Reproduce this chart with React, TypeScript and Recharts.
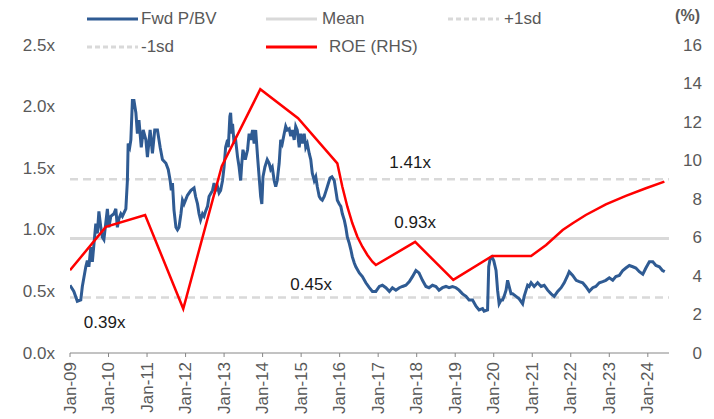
import React from "react"
import { LineChart, Line, XAxis, YAxis, ReferenceLine, ReferenceDot, Legend } from "recharts"

// Fwd P/BV (decimal years)
const pbvDates = [
  2009.0, 2009.1, 2009.19, 2009.28, 2009.32, 2009.41, 2009.45, 2009.49, 2009.54, 2009.58,
  2009.67, 2009.71, 2009.75, 2009.8, 2009.84, 2009.88, 2009.97, 2010.01, 2010.06, 2010.14,
  2010.19, 2010.23, 2010.27, 2010.32, 2010.36, 2010.45, 2010.49, 2010.51, 2010.55, 2010.58,
  2010.62, 2010.66, 2010.71, 2010.75, 2010.79, 2010.85, 2010.9, 2010.97, 2011.01, 2011.08,
  2011.14, 2011.2, 2011.27, 2011.34, 2011.4, 2011.49, 2011.55, 2011.6, 2011.63, 2011.66,
  2011.7, 2011.75, 2011.79, 2011.83, 2011.88, 2011.92, 2011.96, 2012.05, 2012.14, 2012.22,
  2012.26, 2012.31, 2012.35, 2012.39, 2012.44, 2012.48, 2012.52, 2012.57, 2012.61, 2012.7,
  2012.74, 2012.78, 2012.83, 2012.87, 2012.91, 2012.96, 2013.0, 2013.04, 2013.09, 2013.11,
  2013.15, 2013.17, 2013.2, 2013.22, 2013.26, 2013.3, 2013.35, 2013.39, 2013.43, 2013.46,
  2013.49, 2013.55, 2013.61, 2013.65, 2013.69, 2013.74, 2013.78, 2013.82, 2013.87, 2013.91,
  2013.95, 2013.98, 2014.01, 2014.06, 2014.12, 2014.17, 2014.21, 2014.25, 2014.3, 2014.34,
  2014.38, 2014.43, 2014.47, 2014.51, 2014.56, 2014.6, 2014.64, 2014.69, 2014.73, 2014.77,
  2014.82, 2014.86, 2014.9, 2014.95, 2014.99, 2015.03, 2015.08, 2015.12, 2015.16, 2015.21,
  2015.25, 2015.29, 2015.34, 2015.38, 2015.42, 2015.47, 2015.51, 2015.55, 2015.6, 2015.64,
  2015.68, 2015.75, 2015.8, 2015.86, 2015.9, 2015.94, 2015.99, 2016.03, 2016.07, 2016.12,
  2016.16, 2016.2, 2016.25, 2016.29, 2016.33, 2016.38, 2016.42, 2016.51, 2016.59, 2016.68,
  2016.77, 2016.85, 2016.94, 2017.03, 2017.11, 2017.2, 2017.29, 2017.37, 2017.46, 2017.55,
  2017.63, 2017.72, 2017.81, 2017.89, 2017.98, 2018.06, 2018.15, 2018.24, 2018.32, 2018.41,
  2018.5, 2018.58, 2018.67, 2018.76, 2018.84, 2018.93, 2019.02, 2019.1, 2019.19, 2019.28,
  2019.36, 2019.45, 2019.54, 2019.62, 2019.71, 2019.75, 2019.84, 2019.87, 2019.91, 2019.95,
  2020.0, 2020.06, 2020.1, 2020.14, 2020.19, 2020.23, 2020.27, 2020.32, 2020.36, 2020.4,
  2020.45, 2020.49, 2020.58, 2020.66, 2020.75, 2020.79, 2020.84, 2020.88, 2020.92, 2020.97,
  2021.05, 2021.14, 2021.23, 2021.31, 2021.4, 2021.49, 2021.57, 2021.66, 2021.75, 2021.83,
  2021.92, 2021.96, 2022.05, 2022.14, 2022.22, 2022.31, 2022.39, 2022.48, 2022.57, 2022.65,
  2022.74, 2022.83, 2022.91, 2023.0, 2023.09, 2023.17, 2023.26, 2023.35, 2023.43, 2023.52,
  2023.61, 2023.69, 2023.78, 2023.87, 2023.95, 2024.04, 2024.13, 2024.21, 2024.3, 2024.38,
  2024.44,
]
const pbvValues = [
  0.55, 0.5, 0.42, 0.43, 0.54, 0.7, 0.75, 0.7, 0.86, 0.74,
  1.05, 0.97, 1.15, 1.02, 0.94, 0.92, 1.17, 1.02, 1.11, 1.13,
  1.17, 1.02, 1.09, 1.13, 1.11, 1.17, 1.4, 1.7, 1.67, 1.73,
  2.05, 2.05, 1.95, 1.78, 1.89, 1.67, 1.81, 1.73, 1.59, 1.81,
  1.62, 1.81, 1.81, 1.67, 1.57, 1.54, 1.49, 1.4, 1.32, 1.38,
  1.16, 1.02, 1.0, 1.02, 1.13, 1.24, 1.21, 1.28, 1.32, 1.34,
  1.27, 1.21, 1.13, 1.08, 1.13, 1.11, 1.15, 1.19, 1.27, 1.32,
  1.38, 1.32, 1.35, 1.3, 1.32, 1.4, 1.51, 1.67, 1.73, 1.67,
  1.92, 1.95, 1.78, 1.86, 1.7, 1.73, 1.59, 1.51, 1.4, 1.54,
  1.65, 1.57, 1.65, 1.78, 1.73, 1.81, 1.7, 1.81, 1.59, 1.43,
  1.27, 1.21, 1.43, 1.51, 1.57, 1.54, 1.49, 1.51, 1.4, 1.35,
  1.4, 1.54, 1.73, 1.7, 1.78, 1.84, 1.81, 1.82, 1.76, 1.81,
  1.73, 1.84, 1.81, 1.67, 1.78, 1.7, 1.78, 1.67, 1.7, 1.62,
  1.57, 1.46, 1.4, 1.43, 1.35, 1.27, 1.25, 1.24, 1.27, 1.31,
  1.35, 1.42, 1.43, 1.4, 1.32, 1.24, 1.21, 1.19, 1.13, 1.08,
  1.02, 0.94, 0.89, 0.84, 0.78, 0.73, 0.7, 0.65, 0.62, 0.57,
  0.53, 0.5, 0.5, 0.54, 0.55, 0.53, 0.5, 0.53, 0.51, 0.53,
  0.54, 0.55, 0.58, 0.62, 0.67, 0.65, 0.59, 0.54, 0.53, 0.55,
  0.54, 0.51, 0.53, 0.54, 0.53, 0.54, 0.53, 0.51, 0.48, 0.46,
  0.43, 0.43, 0.38, 0.35, 0.36, 0.34, 0.35, 0.7, 0.77, 0.78,
  0.75, 0.67, 0.51, 0.4, 0.43, 0.43, 0.46, 0.51, 0.59, 0.54,
  0.48, 0.48, 0.46, 0.44, 0.4, 0.46, 0.51, 0.55, 0.54, 0.57,
  0.54, 0.57, 0.54, 0.55, 0.51, 0.48, 0.46, 0.5, 0.53, 0.57,
  0.63, 0.66, 0.63, 0.59, 0.58, 0.57, 0.54, 0.5, 0.53, 0.54,
  0.57, 0.58, 0.59, 0.61, 0.59, 0.62, 0.63, 0.67, 0.69, 0.71,
  0.7, 0.69, 0.66, 0.64, 0.69, 0.74, 0.74, 0.71, 0.7, 0.67,
  0.66,
]

// ROE (RHS, %)
const roeDates = [
  2009.0, 2009.93, 2010.95, 2011.94, 2012.94, 2013.94, 2014.92, 2015.94, 2016.07, 2016.2,
  2016.33, 2016.46, 2016.59, 2016.72, 2016.85, 2016.94, 2017.96, 2018.95, 2019.96, 2020.97,
  2021.36, 2021.79, 2022.05, 2022.39, 2022.91, 2023.43, 2023.95, 2024.43,
]
const roeValues = [
  4.3, 6.55, 7.17, 2.3, 9.7, 13.7, 12.2, 9.85, 8.64, 7.6,
  6.74, 6.04, 5.52, 5.09, 4.74, 4.57, 5.77, 3.8, 5.04, 5.04,
  5.61, 6.39, 6.74, 7.17, 7.72, 8.16, 8.56, 8.9,
]

const meanLevel = 0.93
const plusSdLevel = 1.41
const minusSdLevel = 0.45

const xTicks = [2009, 2010, 2011, 2012, 2013, 2014, 2015, 2016, 2017, 2018, 2019, 2020, 2021, 2022, 2023, 2024]
const leftTicks = [0, 0.5, 1, 1.5, 2, 2.5]
const rightTicks = [0, 2, 4, 6, 8, 10, 12, 14, 16]

// level annotations
const noteTexts = ["1.41x", "0.93x", "0.45x", "0.39x"]
const noteDates = [2017.83, 2017.96, 2015.26, 2009.9]
const noteLevels = [1.55, 1.06, 0.56, 0.25]

const pbvData = pbvDates.map((t, i) => ({ t, pbv: pbvValues[i] }))
const roeData = roeDates.map((t, i) => ({ t, roe: roeValues[i] }))

const FONT = "'Liberation Sans', Arial, sans-serif"
const TEXT = "#595959"
const BLUE = "#2f5b93"
const RED = "#ff0000"
const GREY = "#d9d9d9"

function XTick(props: any) {
  const { x, y, payload } = props
  const yy = String(payload.value % 100).padStart(2, "0")
  return (
    <text x={x} y={y} transform={`rotate(-90, ${x}, ${y})`} textAnchor="end" dominantBaseline="central"
      fill={TEXT} fontSize={17} fontFamily={FONT}>
      {`Jan-${yy}`}
    </text>
  )
}

function LeftTick(props: any) {
  const { x, y, payload } = props
  return (
    <text x={x} y={y} textAnchor="end" dominantBaseline="central" fill={TEXT} fontSize={17} fontFamily={FONT}>
      {`${payload.value.toFixed(1)}x`}
    </text>
  )
}

function RightTick(props: any) {
  const { x, y, payload } = props
  return (
    <text x={x} y={y} textAnchor="end" dominantBaseline="central" fill={TEXT} fontSize={17} fontFamily={FONT}>
      {payload.value}
    </text>
  )
}

const legendItems = [
  { label: "Fwd P/BV", color: BLUE, dash: "", left: 87, top: 9, gap: 3 },
  { label: "Mean", color: GREY, dash: "", left: 266, top: 9, gap: 5 },
  { label: "+1sd", color: GREY, dash: "5 3", left: 448, top: 9, gap: 5 },
  { label: "-1sd", color: GREY, dash: "5 3", left: 87, top: 37, gap: 3 },
  { label: "ROE (RHS)", color: RED, dash: "", left: 266, top: 37, gap: 12 },
]

function LegendBox() {
  return (
    <div style={{ position: "relative", width: 714, height: 62, fontFamily: FONT, fontSize: 17, color: TEXT }}>
      {legendItems.map((it) => (
        <div key={it.label} style={{ position: "absolute", left: it.left, top: it.top, height: 20, display: "flex", alignItems: "center", whiteSpace: "nowrap" }}>
          <svg width={51} height={6} style={{ display: "block" }}>
            <line x1={0} y1={3} x2={51} y2={3} stroke={it.color} strokeWidth={3} strokeDasharray={it.dash || undefined} />
          </svg>
          <span style={{ marginLeft: it.gap, lineHeight: "20px" }}>{it.label}</span>
        </div>
      ))}
      <div style={{ position: "absolute", right: 14, top: 6, lineHeight: "20px", fontWeight: "bold", fontSize: 16 }}>(%)</div>
    </div>
  )
}

export default function App() {
  return (
    <div style={{ position: "absolute", left: 0, top: 0, width: 714, height: 419, background: "#fff" }}>
      <LineChart width={714} height={419} margin={{ top: 45, right: 0, left: 8, bottom: 0 }}>
        <XAxis
          dataKey="t"
          type="number"
          domain={[2009, 2024.55]}
          ticks={xTicks}
          interval={0}
          allowDataOverflow
          height={66}
          stroke="#868686"
          tickSize={4}
          tickMargin={5}
          tick={<XTick />}
        />
        <YAxis
          yAxisId="left"
          domain={[0, 2.5]}
          ticks={leftTicks}
          axisLine={false}
          tickLine={false}
          tickSize={0}
          tickMargin={15}
          width={62}
          tick={<LeftTick />}
        />
        <YAxis
          yAxisId="right"
          orientation="right"
          domain={[0, 16]}
          ticks={rightTicks}
          axisLine={false}
          tickLine={false}
          tickSize={0}
          tickMargin={33}
          width={45}
          tick={<RightTick />}
        />
        <Legend verticalAlign="middle" align="center" layout="horizontal"
          wrapperStyle={{ top: 0, left: 0, width: 714, height: 62 }} content={() => <LegendBox />} />
        <ReferenceLine yAxisId="left" y={meanLevel} stroke={GREY} strokeWidth={3} />
        <ReferenceLine yAxisId="left" y={plusSdLevel} stroke={GREY} strokeWidth={2.5} strokeDasharray="8 5" />
        <ReferenceLine yAxisId="left" y={minusSdLevel} stroke={GREY} strokeWidth={2.5} strokeDasharray="8 5" />
        <Line yAxisId="left" data={pbvData} dataKey="pbv" type="linear" stroke={BLUE} strokeWidth={3}
          dot={false} activeDot={false} isAnimationActive={false} />
        <Line yAxisId="right" data={roeData} dataKey="roe" type="linear" stroke={RED} strokeWidth={2.5}
          dot={false} activeDot={false} isAnimationActive={false} />
        {noteTexts.map((txt, i) => (
          <ReferenceDot key={txt} yAxisId="left" x={noteDates[i]} y={noteLevels[i]} r={0} fill="none" stroke="none"
            label={{ value: txt, position: "center", fill: "#1a1a1a", fontSize: 17, fontFamily: FONT }} />
        ))}
      </LineChart>
    </div>
  )
}
